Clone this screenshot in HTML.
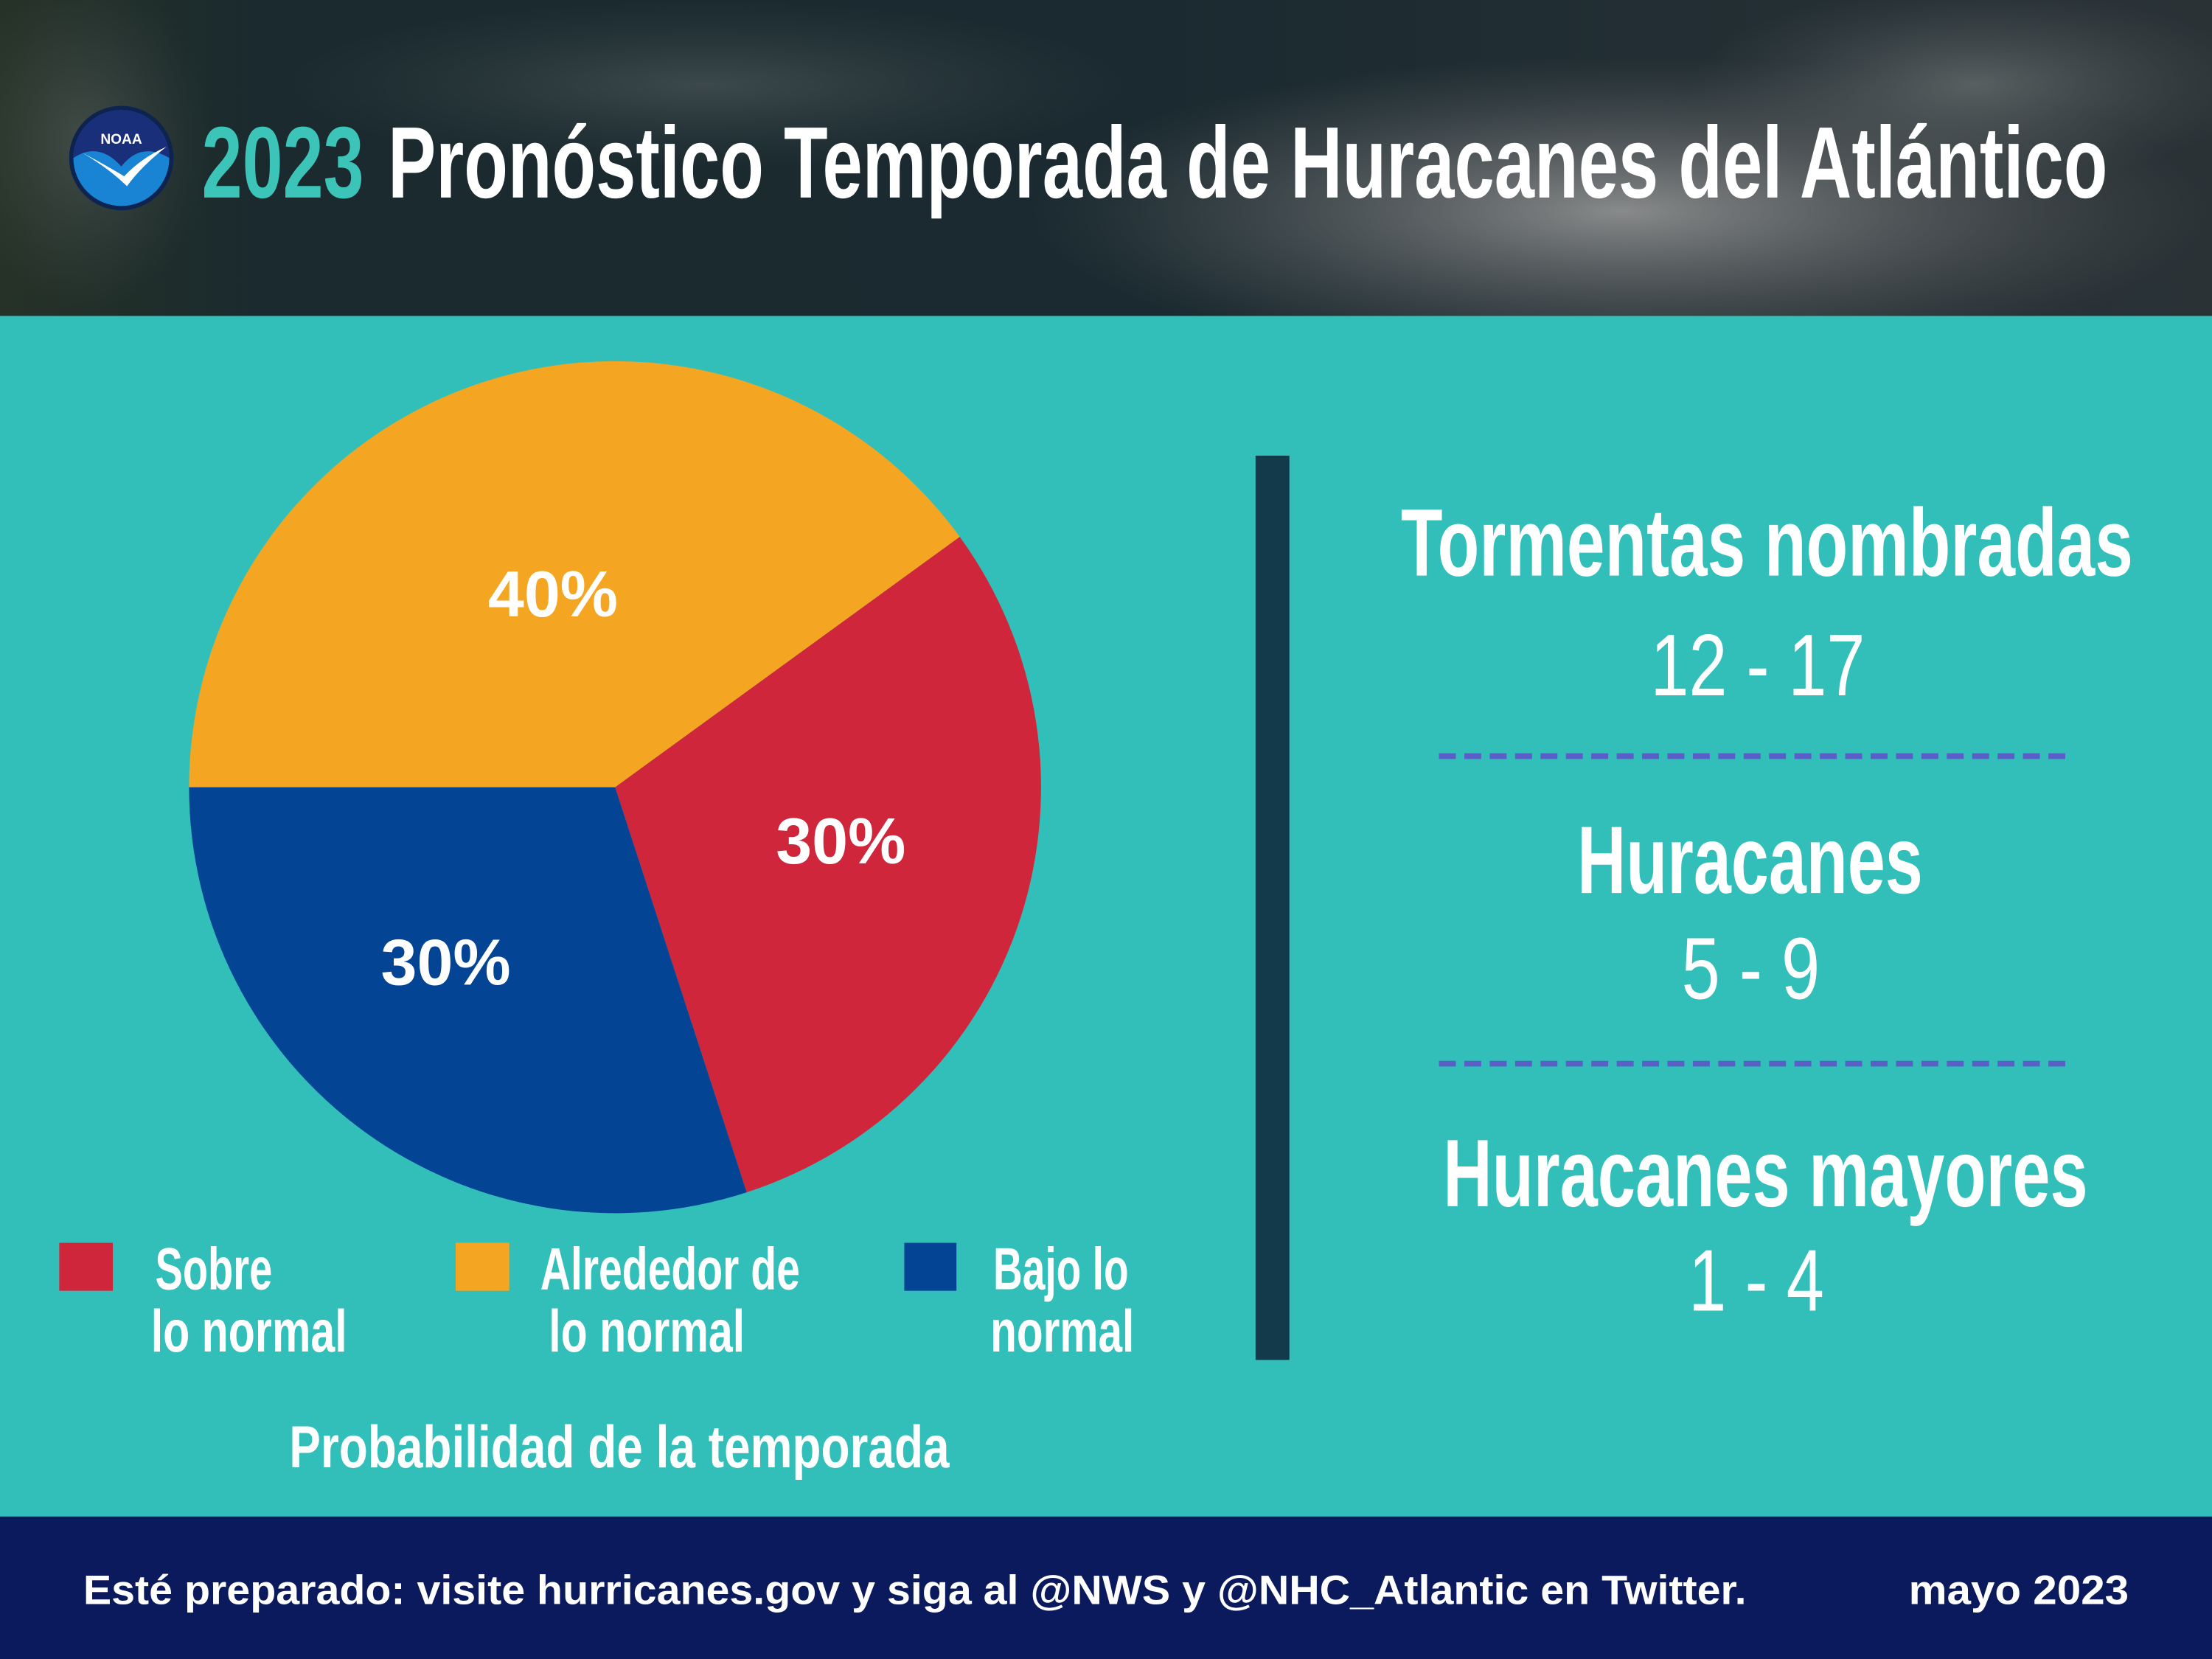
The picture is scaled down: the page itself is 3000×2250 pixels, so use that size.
<!DOCTYPE html>
<html><head><meta charset="utf-8"><style>
html,body{margin:0;padding:0;background:#33bfb9;}
svg{display:block;}
</style></head><body>
<svg width="3000" height="2250" viewBox="0 0 1568 1176" xmlns="http://www.w3.org/2000/svg">
<defs>
<radialGradient id="cl1" cx="0.5" cy="0.5" r="0.5"><stop offset="0" stop-color="#9a9a9a" stop-opacity="0.85"/><stop offset="1" stop-color="#6a6a6a" stop-opacity="0"/></radialGradient>
<radialGradient id="cl2" cx="0.5" cy="0.5" r="0.5"><stop offset="0" stop-color="#7a8080" stop-opacity="0.6"/><stop offset="1" stop-color="#5a6060" stop-opacity="0"/></radialGradient>
<linearGradient id="hd" x1="0" y1="0" x2="1" y2="0"><stop offset="0" stop-color="#263227"/><stop offset="0.12" stop-color="#1a2a2e"/><stop offset="0.5" stop-color="#1a2a30"/><stop offset="1" stop-color="#2a3236"/></linearGradient>
</defs>
<rect x="0" y="0" width="1568" height="224" fill="url(#hd)"/>
<ellipse cx="1150" cy="150" rx="420" ry="110" fill="url(#cl1)"/>
<ellipse cx="1400" cy="60" rx="200" ry="70" fill="url(#cl2)"/>
<ellipse cx="500" cy="60" rx="300" ry="60" fill="url(#cl2)" opacity="0.6"/>
<ellipse cx="60" cy="100" rx="90" ry="120" fill="url(#cl2)" opacity="0.6"/>
<rect x="0" y="224" width="1568" height="852" fill="#33bfb9"/>
<rect x="0" y="1075" width="1568" height="101" fill="#0b1a5c"/>

<!-- NOAA logo -->
<circle cx="86" cy="112" r="37" fill="#0d2450"/>
<circle cx="86" cy="112" r="34" fill="#1a84d4"/>
<path d="M52,112 A34,34 0 0 1 120,112 Q100,100 86,118 Q70,100 52,112Z" fill="#1a2f7a"/>
<path d="M58,108 Q80,120 88,125 Q100,112 118,104 Q100,118 90,132 Q78,120 58,108Z" fill="#fff"/>
<text x="86" y="102" font-family="Liberation Sans" font-weight="bold" font-size="10" fill="#fff" text-anchor="middle">NOAA</text>

<!-- Title -->
<text x="143" y="140" font-family="Liberation Sans Narrow, Liberation Sans, sans-serif" font-weight="bold" font-size="72" fill="#3cc4b8" textLength="115" lengthAdjust="spacingAndGlyphs">2023</text>
<text x="275" y="140" font-family="Liberation Sans Narrow, Liberation Sans, sans-serif" font-weight="bold" font-size="72" fill="#ffffff" textLength="1219" lengthAdjust="spacingAndGlyphs">Pronóstico Temporada de Huracanes del Atlántico</text>

<!-- Pie -->
<path d="M436,558 L680.3,380.5 A302,302 0 0 1 529.3,845.2 Z" fill="#d0263c"/>
<path d="M436,558 L529.3,845.2 A302,302 0 0 1 134,558 Z" fill="#034494"/>
<path d="M436,558 L134,558 A302,302 0 0 1 680.3,380.5 Z" fill="#f4a622"/>
<g font-family="Liberation Sans, sans-serif" font-weight="bold" font-size="46" fill="#fff" text-anchor="middle">
<text x="392" y="437">40%</text>
<text x="596" y="612">30%</text>
<text x="316" y="698">30%</text>
</g>

<!-- Legend -->
<rect x="42" y="881" width="38" height="34" fill="#d0263c"/>
<rect x="323" y="881" width="38" height="34" fill="#f4a622"/>
<rect x="641" y="881" width="37" height="34" fill="#034494"/>
<g font-family="Liberation Sans Narrow, Liberation Sans, sans-serif" font-weight="bold" font-size="42" fill="#fff">
<text x="110" y="914" textLength="83" lengthAdjust="spacingAndGlyphs">Sobre</text>
<text x="107" y="958" textLength="139" lengthAdjust="spacingAndGlyphs">lo normal</text>
<text x="383" y="914" textLength="184" lengthAdjust="spacingAndGlyphs">Alrededor de</text>
<text x="389" y="958" textLength="139" lengthAdjust="spacingAndGlyphs">lo normal</text>
<text x="704" y="914" textLength="96" lengthAdjust="spacingAndGlyphs">Bajo lo</text>
<text x="702" y="958" textLength="102" lengthAdjust="spacingAndGlyphs">normal</text>
<text x="205" y="1040" textLength="468" lengthAdjust="spacingAndGlyphs">Probabilidad de la temporada</text>
</g>

<!-- Divider -->
<rect x="890" y="323" width="24" height="641" fill="#123a4a"/>

<!-- Right stats -->
<g font-family="Liberation Sans Narrow, Liberation Sans, sans-serif" font-weight="bold" font-size="68" fill="#fff">
<text x="993" y="408" textLength="519" lengthAdjust="spacingAndGlyphs">Tormentas nombradas</text>
<text x="1118" y="633" textLength="245" lengthAdjust="spacingAndGlyphs">Huracanes</text>
<text x="1023" y="855" textLength="457" lengthAdjust="spacingAndGlyphs">Huracanes mayores</text>
</g>
<g font-family="Liberation Sans Narrow, Liberation Sans, sans-serif" font-size="62" fill="#fff">
<text x="1170" y="493" textLength="152" lengthAdjust="spacingAndGlyphs">12 - 17</text>
<text x="1192" y="708" textLength="98" lengthAdjust="spacingAndGlyphs">5 - 9</text>
<text x="1197" y="929" textLength="96" lengthAdjust="spacingAndGlyphs">1 - 4</text>
</g>
<line x1="1020" y1="536" x2="1466" y2="536" stroke="#5a5fc8" stroke-width="4" stroke-dasharray="12,6"/>
<line x1="1020" y1="754" x2="1466" y2="754" stroke="#5a5fc8" stroke-width="4" stroke-dasharray="12,6"/>

<!-- Footer -->
<g font-family="Liberation Sans, sans-serif" font-weight="bold" font-size="29" fill="#fff">
<text x="59" y="1137" textLength="1179" lengthAdjust="spacingAndGlyphs">Esté preparado:  visite hurricanes.gov  y siga al @NWS y @NHC_Atlantic  en Twitter.</text>
<text x="1353" y="1137" textLength="156" lengthAdjust="spacingAndGlyphs">mayo 2023</text>
</g>
</svg>
</body></html>
